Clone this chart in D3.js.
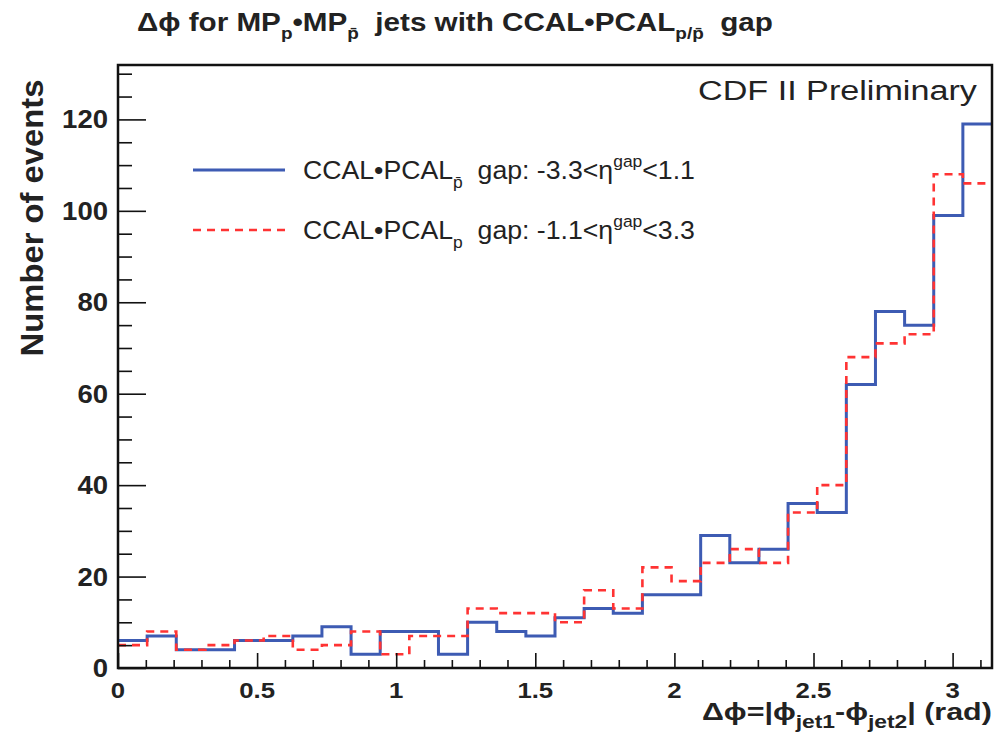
<!DOCTYPE html>
<html>
<head>
<meta charset="utf-8">
<script src="https://cdn.jsdelivr.net/npm/d3@7"></script>
<style>
  html, body { margin: 0; padding: 0; background: #fff; }
  svg { display: block; font-family: "Liberation Sans", Arial, Helvetica, sans-serif; }
  text { white-space: pre; }
</style>
</head>
<body>
<svg id="chart" width="1000" height="740"></svg>
<script>
// Δφ distribution, 30 bins over [0, π]
const nBins = 30;
const xMax = Math.PI;
const yMax = 131.9;

// Counts per bin: CCAL•PCAL p̄-side gap (solid blue)
const gapPbar = [6, 7, 4, 4, 6, 6, 7, 9, 3, 8, 8, 3, 10, 8, 7, 11, 13, 12, 16, 16, 29, 23, 26, 36, 34, 62, 78, 75, 99, 119];
// Counts per bin: CCAL•PCAL p-side gap (dashed red)
const gapP = [5, 8, 4, 5, 6, 7, 4, 5, 8, 3, 7, 7, 13, 12, 12, 10, 17, 13, 22, 19, 23, 26, 23, 34, 40, 68, 71, 73, 108, 106];

const xMajorTicks = [0, 0.5, 1, 1.5, 2, 2.5, 3];
const yMajorTicks = [0, 20, 40, 60, 80, 100, 120];

const svg = d3.select("#chart");
const L = 118, R = 992, T = 65, B = 668;

const x = d3.scaleLinear().domain([0, xMax]).range([L, R]);
const y = d3.scaleLinear().domain([0, yMax]).range([B, T]);

const binWidth = xMax / nBins;

// Horizontally stretch a text element about an anchor x so it spans `width`
function fitWidth(sel, anchorX, width) {
  const w = sel.node().getBBox().width;
  const s = width / w;
  sel.attr("transform", `translate(${anchorX},0) scale(${s},1) translate(${-anchorX},0)`);
  return s;
}
function stretch(sel, anchorX, s) {
  sel.attr("transform", `translate(${anchorX},0) scale(${s},1) translate(${-anchorX},0)`);
}

// step outline of a histogram: horizontal at each bin's value, vertical at edges
function stepPoints(vals) {
  const pts = vals.map((v, i) => [i * binWidth, v]);
  pts.push([xMax, vals[vals.length - 1]]);
  return pts;
}
const stepLine = d3.line()
  .x(d => x(d[0]))
  .y(d => y(d[1]))
  .curve(d3.curveStepAfter);

const plot = svg.append("g");

plot.append("path")
  .datum(stepPoints(gapPbar))
  .attr("d", stepLine)
  .attr("fill", "none")
  .attr("stroke", "#3d5bb3")
  .attr("stroke-width", 3);

plot.append("path")
  .datum(stepPoints(gapP))
  .attr("d", stepLine)
  .attr("fill", "none")
  .attr("stroke", "#ff3333")
  .attr("stroke-width", 2.6)
  .attr("stroke-dasharray", "8,6");

// Frame
svg.append("rect")
  .attr("x", L).attr("y", T)
  .attr("width", R - L).attr("height", B - T)
  .attr("fill", "none")
  .attr("stroke", "#111")
  .attr("stroke-width", 2.5);

// Y axis: inward ticks, minor every 5
const yAxis = d3.axisRight(y)
  .tickValues(yMajorTicks)
  .tickSize(28)
  .tickFormat("");
const yMinor = d3.axisRight(y)
  .tickValues(d3.range(0, 131, 5).filter(v => v % 20 !== 0))
  .tickSize(14)
  .tickFormat("");
[yAxis, yMinor].forEach(ax => {
  const g = svg.append("g").attr("transform", `translate(${L},0)`).call(ax);
  g.select(".domain").remove();
  g.selectAll("line").attr("stroke", "#111").attr("stroke-width", 1.6);
});

// X axis: inward ticks, minor every 0.1
const xAxis = d3.axisTop(x)
  .tickValues(xMajorTicks)
  .tickSize(15)
  .tickFormat("");
const xMinor = d3.axisTop(x)
  .tickValues(d3.range(1, 32).map(i => i / 10).filter(v => Math.abs(v * 2 - Math.round(v * 2)) > 1e-6))
  .tickSize(8)
  .tickFormat("");
[xAxis, xMinor].forEach(ax => {
  const g = svg.append("g").attr("transform", `translate(0,${B})`).call(ax);
  g.select(".domain").remove();
  g.selectAll("line").attr("stroke", "#111").attr("stroke-width", 1.6);
});

// Tick labels
svg.append("g").selectAll("text")
  .data(yMajorTicks)
  .join("text")
  .attr("x", L - 10)
  .attr("y", d => y(d) + 9)
  .attr("text-anchor", "end")
  .attr("font-size", 25)
  .attr("font-weight", "bold")
  .attr("fill", "#222")
  .text(d => d)
  .each(function () { stretch(d3.select(this), L - 10, 1.1); });

svg.append("g").selectAll("text")
  .data(xMajorTicks)
  .join("text")
  .attr("x", d => x(d))
  .attr("y", B + 30)
  .attr("text-anchor", "middle")
  .attr("font-size", 23)
  .attr("font-weight", "bold")
  .attr("fill", "#222")
  .text(d => d)
  .each(function (d) { stretch(d3.select(this), x(d), 1.12); });

// Axis titles
svg.append("text")
  .attr("transform", `translate(43,218) rotate(-90)`)
  .attr("text-anchor", "middle")
  .attr("font-size", 32)
  .attr("font-weight", "bold")
  .attr("fill", "#222")
  .text("Number of events")
  .attr("textLength", 277)
  .attr("lengthAdjust", "spacingAndGlyphs");

const xt = svg.append("text")
  .attr("x", 702).attr("y", 720)
  .attr("font-size", 24)
  .attr("font-weight", "bold")
  .attr("fill", "#222");
xt.append("tspan").text("Δϕ=|ϕ");
xt.append("tspan").attr("font-size", 18).attr("dy", 8).text("jet1");
xt.append("tspan").attr("dy", -8).text("-ϕ");
xt.append("tspan").attr("font-size", 18).attr("dy", 8).text("jet2");
xt.append("tspan").attr("dy", -8).text("| (rad)");
fitWidth(xt, 702, 290);

// Title
const title = svg.append("text")
  .attr("x", 137).attr("y", 31)
  .attr("font-size", 25)
  .attr("font-weight", "bold")
  .attr("fill", "#222");
title.append("tspan").text("Δϕ for MP");
title.append("tspan").attr("font-size", 16).attr("dy", 8).text("p");
title.append("tspan").attr("dy", -8).text("•MP");
title.append("tspan").attr("font-size", 16).attr("dy", 8).text("p\u0304");
title.append("tspan").attr("dy", -8).text("  jets with CCAL•PCAL");
title.append("tspan").attr("font-size", 16).attr("dy", 8).text("p/p\u0304");
title.append("tspan").attr("dy", -8).text("  gap");
fitWidth(title, 137, 636);

// Experiment label
const cdf = svg.append("text")
  .attr("x", 698).attr("y", 100)
  .attr("font-size", 28)
  .attr("fill", "#222")
  .text("CDF II Preliminary");
fitWidth(cdf, 698, 279);

// Legend
const legendItems = [
  { sub: "p\u0304", range: ["-3.3", "1.1"], color: "#3d5bb3", dash: null, width: 3 },
  { sub: "p", range: ["-1.1", "3.3"], color: "#ff3333", dash: "8,6", width: 2.6 }
];
const lg = svg.append("g");
let legendScale = null;
legendItems.forEach((d, i) => {
  const cy = 170 + i * 60;
  lg.append("line")
    .attr("x1", 193).attr("x2", 285)
    .attr("y1", cy).attr("y2", cy)
    .attr("stroke", d.color)
    .attr("stroke-width", d.width)
    .attr("stroke-dasharray", d.dash);
  const t = lg.append("text")
    .attr("x", 303).attr("y", cy + 9)
    .attr("font-size", 26)
    .attr("fill", "#222");
  t.append("tspan").text("CCAL•PCAL");
  t.append("tspan").attr("font-size", 17).attr("dy", 9).text(d.sub);
  t.append("tspan").attr("dy", -9).text("  gap: " + d.range[0] + "<η");
  t.append("tspan").attr("font-size", 17).attr("dy", -12).text("gap");
  t.append("tspan").attr("dy", 12).text("<" + d.range[1]);
  if (legendScale === null) legendScale = fitWidth(t, 303, 392);
  else stretch(t, 303, legendScale);
});
</script>
</body>
</html>
